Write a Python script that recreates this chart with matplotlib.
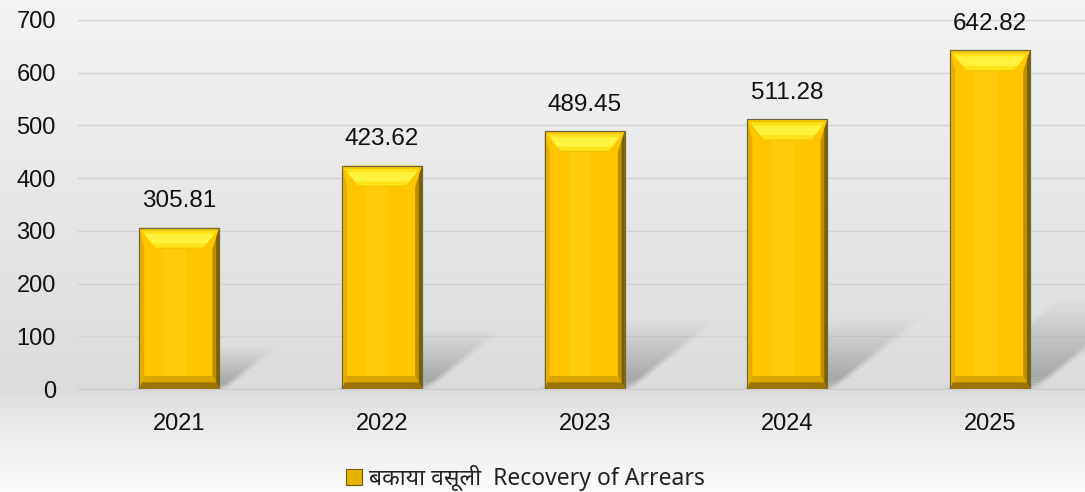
import numpy as np
import matplotlib
matplotlib.use("Agg")
import matplotlib.pyplot as plt
import matplotlib.patches as mpatches
from matplotlib import font_manager
from matplotlib.ft2font import FT2Font

W_PX, H_PX, DPI = 1085, 492, 100

years = ["2021", "2022", "2023", "2024", "2025"]
values = [305.81, 423.62, 489.45, 511.28, 642.82]
value_labels = ["305.81", "423.62", "489.45", "511.28", "642.82"]
yticks = [0, 100, 200, 300, 400, 500, 600, 700]
legend_label = "बकाया वसूली  Recovery of Arrears"

BAR_W = 0.395
FACE = "#FFC600"
EDGE = "#6e6440"


def font_with(ch):
    """First installed family that has a glyph for ch."""
    for f in font_manager.fontManager.ttflist:
        try:
            if ord(ch) in FT2Font(f.fname).get_charmap():
                return f.name
        except Exception:
            pass
    return None


deva = font_with("ब")
legend_family = ["Noto Sans"] + ([deva] if deva else []) + ["DejaVu Sans"]
num_family = ["Liberation Sans", "DejaVu Sans"]

fig = plt.figure(figsize=(W_PX / DPI, H_PX / DPI), dpi=DPI)

# background gradient: light at top, grey at the baseline, light again below
bg = fig.add_axes([0, 0, 1, 1], zorder=-10)
bg.set_axis_off()
rows = np.linspace(0, 1, 400)
base = 389 / H_PX
shade = np.where(rows < base,
                 0.955 - (0.955 - 0.862) * (rows / base),
                 0.862 + (0.985 - 0.862) * ((rows - base) / (1 - base)) ** 0.8)
bg.imshow(np.repeat(shade[:, None], 3, axis=1)[:, :, None] * np.ones((1, 1, 3)),
          aspect="auto", extent=[0, 1, 1, 0], interpolation="bilinear")
bg.set_xlim(0, 1)
bg.set_ylim(1, 0)

left, bottom = 78 / W_PX, (H_PX - 389) / H_PX
top = (H_PX - 20) / H_PX
ax = fig.add_axes([left, bottom, 1 - left, top - bottom])
ax.set_facecolor("none")
cat_px = 202.7
ax.set_xlim(-0.5, -0.5 + (W_PX - 78) / cat_px)
ax.set_ylim(0, 700)

x = np.arange(len(years))

# pixel -> data conversions
px_x = 1.0 / cat_px
px_y = 700 / 369.0

ax.set_yticks(yticks)
ax.set_xticks(x)
ax.set_xticklabels(years)
ax.tick_params(axis="both", length=0, labelsize=17, colors="#111111")
ax.tick_params(axis="x", pad=17)
ax.tick_params(axis="y", pad=16)
for lab in ax.get_xticklabels() + ax.get_yticklabels():
    lab.set_family(num_family)
ax.grid(axis="y", color="#d2d2d2", linewidth=1.0, zorder=0)
ax.set_axisbelow(True)
for s in ["top", "right", "left"]:
    ax.spines[s].set_visible(False)
ax.spines["bottom"].set_color("#cccccc")
ax.spines["bottom"].set_linewidth(1.0)

# cast shadows (projection of each bar onto the floor, fading with distance)
for xi, v in zip(x, values):
    x0, x1 = xi - BAR_W / 2, xi + BAR_W / 2
    hpx = v / px_y
    dx = 0.34 * hpx * px_x
    dy = 0.27 * hpx * px_y
    n = 30
    for k in range(n):
        t0, t1 = k / n, (k + 1) / n
        tm = (t0 + t1) / 2
        a = 0.48 * (1 - tm) ** 1.2 * min(1.0, tm * 5 + 0.3)
        for grow, frac in ((7.0, 0.25), (3.5, 0.3), (0.0, 0.35)):
            gx = grow * px_x
            poly = [(x0 + dx * t0 - gx, dy * t0), (x1 + dx * t0 + gx, dy * t0),
                    (x1 + dx * t1 + gx, dy * t1), (x0 + dx * t1 - gx, dy * t1)]
            ax.add_patch(mpatches.Polygon(poly, closed=True, facecolor="#3c3c3c",
                                          edgecolor="none", alpha=a * frac,
                                          zorder=1))

# bars with bevel
ax.bar(x, values, width=BAR_W, color=FACE, edgecolor=EDGE, linewidth=0.8,
       zorder=3)
for xi, v in zip(x, values):
    x0, x1 = xi - BAR_W / 2, xi + BAR_W / 2
    tb, sl, sr, bb = 21 * px_y, 5 * px_x, 7 * px_x, 13 * px_y
    ti = 17 * px_x
    # subtle vertical highlight
    ax.add_patch(mpatches.Rectangle((x0 + 0.3 * BAR_W, bb), 0.28 * BAR_W,
                                    v - bb - tb, facecolor="#FFCB0A",
                                    edgecolor="none", zorder=4))
    # left bevel
    ax.add_patch(mpatches.Polygon([(x0, 0), (x0 + sl, bb), (x0 + sl, v - tb),
                                   (x0, v)], facecolor="#E6AE00",
                                  edgecolor="none", zorder=4))
    # right bevel (dark)
    ax.add_patch(mpatches.Polygon([(x1, 0), (x1 - sr, bb), (x1 - sr, v - tb),
                                   (x1, v)], facecolor="#BE9000",
                                  edgecolor="none", zorder=4))
    ax.add_patch(mpatches.Polygon([(x1, 0), (x1 - sr * 0.45, bb * 0.45),
                                   (x1 - sr * 0.45, v - tb * 0.45), (x1, v)],
                                  facecolor="#7a6000", edgecolor="none", zorder=4))
    # bottom bevel
    ax.add_patch(mpatches.Polygon([(x0, 0), (x1, 0), (x1 - sr, bb),
                                   (x0 + sl, bb)], facecolor="#D9A600",
                                  edgecolor="none", zorder=4))
    ax.add_patch(mpatches.Polygon([(x0, 0), (x1, 0), (x1 - sr * 0.5, bb * 0.5),
                                   (x0 + sl * 0.5, bb * 0.5)],
                                  facecolor="#9a7400", edgecolor="none", zorder=4))
    # top bevel (bright)
    ax.add_patch(mpatches.Polygon([(x0, v), (x1, v), (x1 - ti, v - tb),
                                   (x0 + ti, v - tb)], facecolor="#F2C400",
                                  edgecolor="none", zorder=4))
    ax.add_patch(mpatches.Polygon([(x0 + ti * 0.15, v - tb * 0.15),
                                   (x1 - ti * 0.15, v - tb * 0.15),
                                   (x1 - ti * 0.95, v - tb * 0.95),
                                   (x0 + ti * 0.95, v - tb * 0.95)],
                                  facecolor="#FFE21A", edgecolor="none", zorder=4))
    ax.add_patch(mpatches.Polygon([(x0 + ti * 0.3, v - tb * 0.3),
                                   (x1 - ti * 0.3, v - tb * 0.3),
                                   (x1 - ti * 0.75, v - tb * 0.75),
                                   (x0 + ti * 0.75, v - tb * 0.75)],
                                  facecolor="#FFF23C", edgecolor="none", zorder=4))
    ax.add_patch(mpatches.Rectangle((x0, 0), BAR_W, v, facecolor="none",
                                    edgecolor=EDGE, linewidth=0.8, zorder=5))

# value labels
for xi, v, lab in zip(x, values, value_labels):
    ax.annotate(lab, (xi, v), xytext=(0, 19), textcoords="offset points",
                ha="center", va="center", fontsize=17.5, family=num_family,
                color="#111111", zorder=6)

handle = mpatches.Patch(facecolor="#E5B400", edgecolor="#6e5a10", linewidth=0.8)
leg = fig.legend([handle], [legend_label], loc="center",
                 bbox_to_anchor=(0.484, 14 / H_PX), frameon=False,
                 handlelength=0.7, handleheight=0.7, handletextpad=0.3,
                 prop={"family": legend_family, "size": 16.5})
for t in leg.get_texts():
    t.set_color("#222222")

fig.savefig("out.png", dpi=DPI)
